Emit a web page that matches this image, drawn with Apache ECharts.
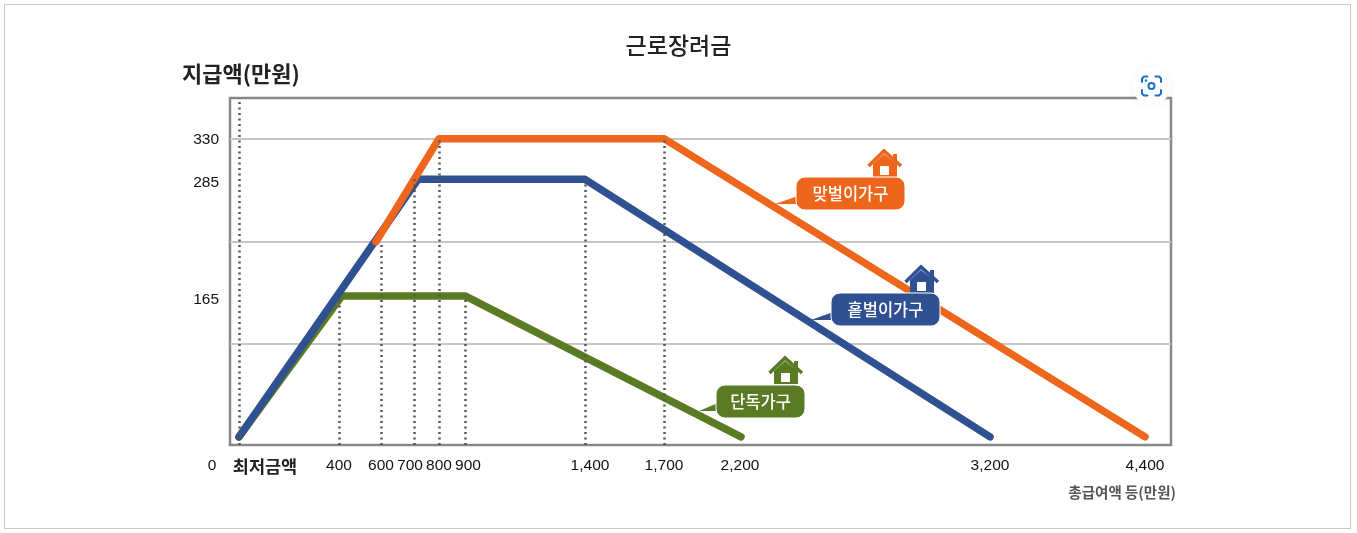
<!DOCTYPE html>
<html>
<head>
<meta charset="utf-8">
<style>
html, body { margin: 0; padding: 0; background: #fff; }
#chart { width: 1357px; height: 533px; }
</style>
<script src="https://cdn.jsdelivr.net/npm/echarts@6/dist/echarts.min.js"></script>
</head>
<body>
<div id="chart"></div>
<script>
// the printed axes are schematic (not to scale), so the stops below are
// positions along the drawn axis, and the label arrays say what is printed there
var xLabelStops = [104, 400, 568, 684, 800, 916, 1404, 1700, 2004, 3004, 3624];
var xLabels = ['최저금액', '400', '600', '700', '800', '900', '1,400', '1,700', '2,200', '3,200', '4,400'];
var yLabelStops = [152, 281, 329];
var yLabels = ['165', '285', '330'];
var yGridStops = [103, 216, 330];

var singleLine = [[0, 0], [412, 156], [904, 156], [2008, 0]];
var soleLine = [[0, 0], [716, 285], [1384, 285], [3004, 0]];
var coupleLine = [[548, 216], [800, 330], [1700, 330], [3624, 0]];

var dropX = [0, 400, 568, 700, 800, 904, 1384, 1700];
var dropTop = [375, 156, 216, 285, 330, 156, 285, 330];

var ORANGE = '#EE661B', BLUE = '#2F5191', GREEN = '#5A7A24';
var LATIN = '"Liberation Sans", sans-serif';
var KR = '"Noto Sans CJK KR", sans-serif';

var X_MIN = -36, X_MAX = 3728, Y_MIN = -9, Y_MAX = 375;

function callout(x, y, w, h, tip, text, color) {
    return [
        { type: 'polygon', z: 10, shape: { points: [[x + 2, tip[1] - 8], [tip[0], tip[1]], [x + 2, tip[1]]] }, style: { fill: color } },
        { type: 'rect', z: 11, shape: { x: x, y: y, width: w, height: h, r: 9 }, style: { fill: color, stroke: '#fff', lineWidth: 1 } },
        { type: 'text', z: 12, x: x + w / 2, y: y + h / 2, style: { text: text, fill: '#fff', font: '500 16.5px ' + KR, align: 'center', verticalAlign: 'middle' } }
    ];
}

function house(ax, ay, color) {
    return [
        { type: 'polygon', z: 9, shape: { points: [[ax - 11, ay + 28], [ax - 11, ay + 15], [ax, ay + 5], [ax + 13, ay + 15], [ax + 13, ay + 28]] }, style: { fill: color } },
        { type: 'rect', z: 9, shape: { x: ax + 9, y: ay + 5, width: 4, height: 9 }, style: { fill: color } },
        { type: 'polyline', z: 9, shape: { points: [[ax - 15.5, ay + 17], [ax, ay + 2], [ax + 17, ay + 17]] }, style: { fill: 'none', stroke: color, lineWidth: 3.5 } },
        { type: 'rect', z: 10, shape: { x: ax - 4, y: ay + 17, width: 9, height: 9 }, style: { fill: '#fff' } }
    ];
}

function lensCorners(cx, cy, r, color) {
    var out = [];
    [[-1, -1], [1, -1], [-1, 1], [1, 1]].forEach(function (s) {
        out.push({
            type: 'polyline', z: 21,
            shape: { points: [
                [cx + s[0] * r, cy + s[1] * 4],
                [cx + s[0] * r, cy + s[1] * (r - 2)],
                [cx + s[0] * (r - 2), cy + s[1] * r],
                [cx + s[0] * 4, cy + s[1] * r]
            ] },
            style: { fill: 'none', stroke: color, lineWidth: 2, lineCap: 'round', lineJoin: 'round' }
        });
    });
    return out;
}

var graphics = [
    { type: 'rect', z: 0, shape: { x: 4.5, y: 4.5, width: 1346, height: 524 }, style: { fill: 'none', stroke: '#c9c9c9', lineWidth: 1 } },
    { type: 'text', z: 5, x: 212, y: 466, style: { text: '0', fill: '#111', font: '15.5px ' + LATIN, align: 'center', verticalAlign: 'middle' } },
    { type: 'circle', z: 20, shape: { cx: 1151.5, cy: 86, r: 19 }, style: { fill: '#fff', shadowBlur: 8, shadowColor: 'rgba(0,0,0,0.06)' } },
    { type: 'circle', z: 21, shape: { cx: 1151.5, cy: 86, r: 3 }, style: { fill: 'none', stroke: '#1a6fc9', lineWidth: 2 } },
    { type: 'circle', z: 21, shape: { cx: 1146, cy: 80.5, r: 1.2 }, style: { fill: '#1a6fc9' } }
].concat(
    lensCorners(1151.5, 86, 9.5, '#1a6fc9'),
    callout(796, 177, 109, 33, [775, 204], '맞벌이가구', ORANGE),
    house(884, 149, ORANGE),
    callout(831, 293, 109, 33, [811, 320], '홑벌이가구', BLUE),
    house(921, 265, BLUE),
    callout(716, 385, 89, 33, [699, 411], '단독가구', GREEN),
    house(785, 356, GREEN)
);

var dropLines = dropX.map(function (x, i) {
    return [{ coord: [x, Y_MIN] }, { coord: [x, dropTop[i]] }];
});

function incomeLine(name, data, color) {
    return {
        name: name,
        type: 'line',
        data: data,
        symbol: 'none',
        z: 4,
        lineStyle: { color: color, width: 7.5, cap: 'round', join: 'round' }
    };
}

var myChart = echarts.init(document.getElementById('chart'));

var option = {
    animation: false,
    backgroundColor: '#fff',
    title: {
        text: '근로장려금',
        left: 'center',
        top: 29,
        textStyle: { fontFamily: KR, fontSize: 23, fontWeight: 500, color: '#222' }
    },
    grid: { left: 230, right: 186, top: 98, bottom: 88, show: true, borderColor: '#888', borderWidth: 2.5, backgroundColor: 'transparent' },
    xAxis: {
        type: 'value',
        min: X_MIN,
        max: X_MAX,
        name: '총급여액 등(만원)',
        nameLocation: 'end',
        nameGap: 0,
        nameTextStyle: { fontFamily: KR, fontSize: 14.5, fontWeight: 700, color: '#555', align: 'right', verticalAlign: 'top', padding: [48, -5, 0, 0] },
        axisLine: { show: false },
        axisTick: { show: false },
        splitLine: { show: false },
        axisLabel: {
            customValues: xLabelStops,
            margin: 13,
            color: '#111',
            fontFamily: LATIN,
            fontSize: 15.5,
            formatter: function (v) {
                var t = xLabels[xLabelStops.indexOf(v)];
                return t === '최저금액' ? '{kr|' + t + '}' : t;
            },
            rich: { kr: { fontFamily: KR, fontSize: 17.5, fontWeight: 700, color: '#222', padding: [0, 0, 6, 0] } }
        }
    },
    yAxis: {
        type: 'value',
        min: Y_MIN,
        max: Y_MAX,
        name: '지급액(만원)',
        nameLocation: 'end',
        nameGap: 13,
        nameTextStyle: { fontFamily: KR, fontSize: 22, fontWeight: 700, color: '#222', align: 'left', padding: [0, 0, 0, -48] },
        axisLine: { show: false, onZero: false },
        axisTick: { show: false, customValues: yGridStops },
        splitLine: { show: true, lineStyle: { color: '#c6c6c6', width: 2 } },
        axisLabel: {
            customValues: yLabelStops,
            margin: 11,
            color: '#111',
            fontFamily: LATIN,
            fontSize: 15.5,
            formatter: function (v) { return yLabels[yLabelStops.indexOf(v)]; }
        }
    },
    graphic: graphics,
    series: [
        {
            name: 'drop lines',
            type: 'line',
            data: [],
            z: 3,
            markLine: {
                silent: true,
                symbol: 'none',
                label: { show: false },
                lineStyle: { color: '#555', type: [2, 3.5], width: 2.5 },
                data: dropLines
            }
        },
        incomeLine('단독가구', singleLine, GREEN),
        incomeLine('홑벌이가구', soleLine, BLUE),
        incomeLine('맞벌이가구', coupleLine, ORANGE)
    ]
};
myChart.setOption(option);
</script>
</body>
</html>
